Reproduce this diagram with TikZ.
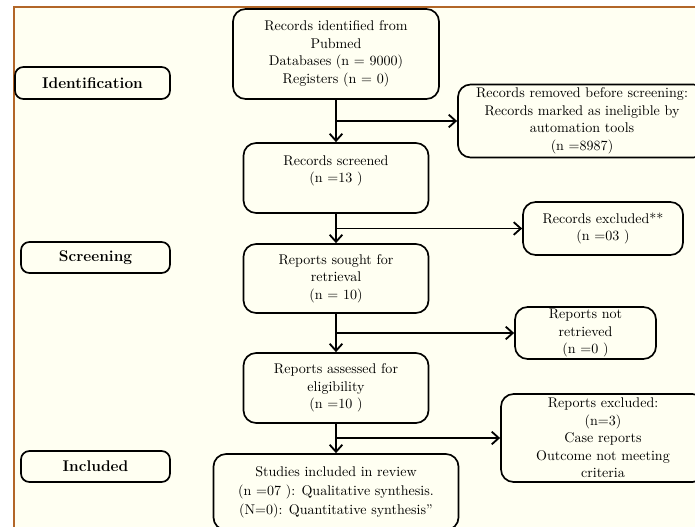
\documentclass[tikz,border=0pt]{standalone}
\usetikzlibrary{arrows.meta}

\definecolor{framebrown}{RGB}{178,102,40}
\definecolor{paper}{RGB}{255,255,242}

\begin{document}
\begin{tikzpicture}[x=0.025cm,y=-0.025cm,
  box/.style={draw,line width=1.2pt,rounded corners=9pt,align=center,inner sep=0pt,
    font=\fontsize{10}{12.5}\selectfont},
  stage/.style={box,rounded corners=6pt,font=\bfseries\fontsize{11}{13}\selectfont},
  flow/.style={line width=1.3pt,-{Straight Barb[length=5pt,width=9pt]}}]
\useasboundingbox (0,0) rectangle (695,526);
\clip (0,0) rectangle (695,526);
% background and frame
\fill[white] (0,0) rectangle (695,526);
\fill[paper] (14,7) rectangle (700,530);
\draw[framebrown,line width=1.6pt] (14,530) -- (14,7) -- (700,7);

% stage labels
\node[stage,minimum width=3.875cm,minimum height=0.8cm] (ident) at (92.5,83) {Identification};
\node[stage,minimum width=3.725cm,minimum height=0.775cm] (screen) at (95.5,257.5) {Screening};
\node[stage,minimum width=3.725cm,minimum height=0.775cm] (incl) at (95.5,466.5) {Included};

% main column
\node[box,minimum width=5.15cm,minimum height=2.25cm] (recid) at (336,54)
  {Records identified from\\Pubmed\\Databases (n = 9000)\\Registers (n = 0)};
\node[box,minimum width=4.625cm,minimum height=1.75cm] (recscr) at (336,178)
  {Records screened\\(n =13 )\\\mbox{}};
\node[box,minimum width=4.625cm,minimum height=1.725cm] (sought) at (336,278.5)
  {Reports sought for\\retrieval\\(n = 10)};
\node[box,minimum width=4.625cm,minimum height=1.75cm] (assess) at (336,388)
  {Reports assessed for\\eligibility\\(n =10 )};
\node[box,minimum width=6.125cm,minimum height=1.9cm,font=\fontsize{10}{13.5}\selectfont] (studies) at (336,492)
  {Studies included in review\\(n =07 ): Qualitative synthesis.\\(N=0): Quantitative synthesis''};

% side boxes
\node[box,minimum width=6.2cm,minimum height=1.825cm] (removed) at (582,121)
  {Records removed before screening:\\Records marked as ineligible by\\automation tools\\(n =8987)};
\node[box,minimum width=4cm,minimum height=1.325cm] (recexcl) at (603,228.5)
  {Records excluded**\\(n =03 )};
\node[box,minimum width=3.525cm,minimum height=1.3cm] (notret) at (585.5,333)
  {Reports not\\retrieved\\(n =0 )};
\node[box,minimum width=5.1cm,minimum height=2.2cm] (repexcl) at (603,438)
  {Reports excluded:\\(n=3)\\Case reports\\Outcome not meeting\\criteria};

% connectors
\draw[flow] (recid) -- (recscr);
\draw[flow] (recscr) -- (sought);
\draw[flow] (sought) -- (assess);
\draw[flow] (assess) -- (studies);
\draw[flow] (recid.south |- removed.west) -- (removed.west);
\draw[flow] (recscr.south |- recexcl.west) -- (recexcl.west);
\draw[flow] (sought.south |- notret.west) -- (notret.west);
\draw[flow] (assess.south |- repexcl.west) -- (repexcl.west);
\end{tikzpicture}
\end{document}
